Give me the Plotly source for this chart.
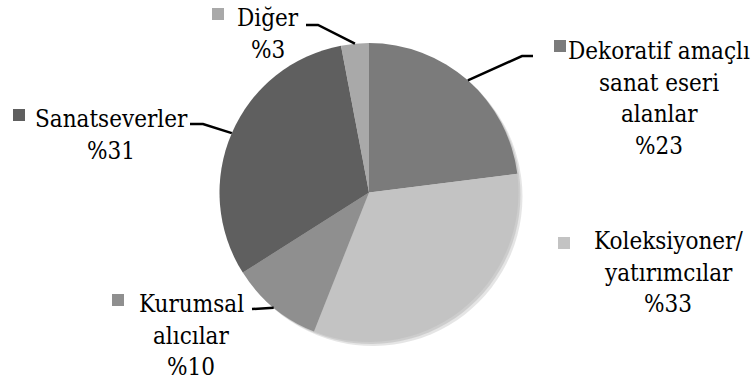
import math
import plotly.graph_objects as go

W, H = 756, 383

categories = ["Dekoratif amaçlı sanat eseri alanlar", "Koleksiyoner/ yatırımcılar",
              "Kurumsal alıcılar", "Sanatseverler", "Diğer"]
values = [23, 33, 10, 31, 3]
label_lines = [["Dekoratif amaçlı", "sanat eseri", "alanlar"],
               ["Koleksiyoner/", "yatırımcılar"],
               ["Kurumsal", "alıcılar"],
               ["Sanatseverler"],
               ["Diğer"]]
colors = ["#7b7b7b", "#c3c3c3", "#8f8f8f", "#5f5f5f", "#a9a9a9"]

# layout (pixel) settings
cx, cy, R = 369, 192.5, 149.5
FS = 24
LS = 31.5
FONT = "DejaVu Serif Condensed, DejaVu Serif, serif"
# text center x, first-line baseline y, square (x0,y0), leader elbow points
label_pos = [
    dict(tx=659, by=59, sq=(554, 40), elbow=[(522, 56), (533, 56)]),
    dict(tx=668, by=249, sq=(558, 237), elbow=None),
    dict(tx=191, by=312, sq=(112, 294), elbow=[(252, 309)]),
    dict(tx=111, by=127, sq=(13, 109), elbow=[(203, 124), (190, 124)]),
    dict(tx=268, by=26, sq=(212, 8), elbow=[(318, 25), (306, 25)]),
]


def px(x):
    return x / W


def py(y):
    return 1 - y / H


fig = go.Figure()

# soft shadow
for off, op in [(4, 0.10), (2, 0.10)]:
    fig.add_trace(go.Pie(
        values=values, labels=categories, sort=False, direction="clockwise", rotation=0,
        marker=dict(colors=[f"rgba(0,0,0,{op})"] * len(values), line=dict(width=0)),
        textinfo="none", hoverinfo="skip", showlegend=False,
        domain=dict(x=[px(cx - R + off), px(cx + R + off)], y=[py(cy + R + off), py(cy - R + off)]),
    ))

fig.add_trace(go.Pie(
    values=values, labels=categories, sort=False, direction="clockwise", rotation=0,
    marker=dict(colors=colors, line=dict(width=0)),
    textinfo="none", showlegend=False,
    domain=dict(x=[px(cx - R), px(cx + R)], y=[py(cy + R), py(cy - R)]),
))

total = sum(values)
cum = 0
annotations = []
shapes = []
for i, v in enumerate(values):
    mid = (cum + v / 2) / total * 2 * math.pi
    cum += v
    pos = label_pos[i]
    lines = label_lines[i] + [f"%{v}"]
    for k, t in enumerate(lines):
        yc = pos["by"] + k * LS - 8
        annotations.append(dict(
            x=px(pos["tx"]), y=py(yc), xref="paper", yref="paper",
            text=t, showarrow=False, xanchor="center", yanchor="middle",
            font=dict(family=FONT, size=FS, color="#000000"),
        ))
    sx, sy = pos["sq"]
    shapes.append(dict(type="rect", xref="paper", yref="paper",
                       x0=px(sx), x1=px(sx + 12), y0=py(sy), y1=py(sy + 12),
                       fillcolor=colors[i], line=dict(width=0)))
    if pos["elbow"]:
        ex = cx + R * math.sin(mid)
        ey = cy - R * math.cos(mid)
        pts = [(ex, ey)] + pos["elbow"]
        path = "M " + " L ".join(f"{px(a)},{py(b)}" for a, b in pts)
        shapes.append(dict(type="path", xref="paper", yref="paper", path=path,
                           line=dict(color="#000000", width=2.5)))

fig.update_layout(
    width=W, height=H, margin=dict(l=0, r=0, t=0, b=0),
    paper_bgcolor="white", plot_bgcolor="white",
    font=dict(family=FONT),
    annotations=annotations, shapes=shapes, showlegend=False,
)

fig.write_html("out.html")
